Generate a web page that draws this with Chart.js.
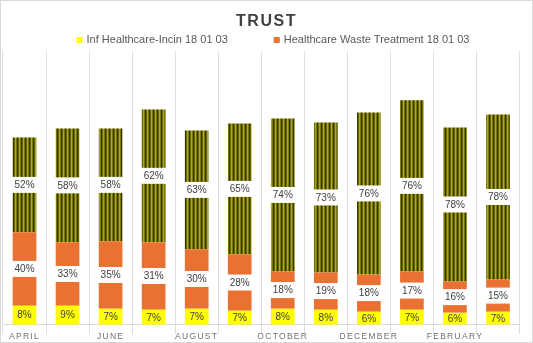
<!DOCTYPE html>
<html>
<head>
<meta charset="utf-8">
<script src="https://cdn.jsdelivr.net/npm/chart.js@4.4.1/dist/chart.umd.min.js"></script>
<style>
  html, body { margin: 0; padding: 0; background: #fff; }
  canvas { display: block; }
</style>
</head>
<body>
<canvas id="trustChart" width="533" height="343"></canvas>
<script>
// Months (financial year, April to March)
const months = ["APRIL", "MAY", "JUNE", "JULY", "AUGUST", "SEPTEMBER",
  "OCTOBER", "NOVEMBER", "DECEMBER", "JANUARY", "FEBRUARY", "MARCH"];

// Tonnage per stream
const infIncin = [1.9, 1.9, 1.6, 1.5, 1.6, 1.4, 1.6, 1.5, 1.3, 1.5, 1.2, 1.3];
const hwTreatment = [7.3, 6.3, 6.7, 6.7, 5.9, 5.6, 3.7, 3.7, 3.7, 3.8, 3.1, 3.2];
const otherWaste = [9.4, 11.3, 11.2, 13.2, 11.8, 13.0, 15.2, 14.9, 16.1, 17.0, 15.3, 16.4];

// Share labels printed on the segments
const infIncinPct = [8, 9, 7, 7, 7, 7, 8, 8, 6, 7, 6, 7];
const hwTreatmentPct = [40, 33, 35, 31, 30, 28, 18, 19, 18, 17, 16, 15];
const otherWastePct = [52, 58, 58, 62, 63, 65, 74, 73, 76, 76, 78, 78];

const FONT = '"Liberation Sans", Arial, sans-serif';
const pctLabels = [infIncinPct, hwTreatmentPct, otherWastePct];

// vertical stripe fill for the top segment
function stripePattern() {
  const pc = document.createElement("canvas");
  pc.width = 4; pc.height = 4;
  const p = pc.getContext("2d");
  const cols = ["#7a7900", "#333300", "#6c6b00", "#a9a71c"];
  cols.forEach((c, i) => { p.fillStyle = c; p.fillRect(i, 0, 1, 4); });
  return document.createElement("canvas").getContext("2d").createPattern(pc, "repeat");
}

const segmentLabels = {
  id: "segmentLabels",
  beforeDraw(chart) {
    const c = chart.ctx;
    c.save();
    c.fillStyle = "#fff";
    c.fillRect(0, 0, chart.width, chart.height);
    c.restore();
    c.letterSpacing = "1.5px"; // spaced title
  },
  beforeDatasetsDraw(chart) {
    chart.ctx.letterSpacing = "0px";
  },
  afterDatasetsDraw(chart) {
    const c = chart.ctx;
    c.save();
    c.font = "10px " + FONT;
    c.textAlign = "center";
    c.textBaseline = "middle";
    chart.data.datasets.forEach((ds, i) => {
      chart.getDatasetMeta(i).data.forEach((bar, j) => {
        const mid = (bar.y + bar.base) / 2;
        if (i > 0) {
          c.fillStyle = "#fff";
          c.fillRect(bar.x - bar.width / 2 - 2, mid - 8, bar.width + 4, 16);
        }
        c.fillStyle = "#404040";
        c.fillText(pctLabels[i][j] + "%", bar.x, mid + 0.5);
      });
    });
    c.restore();
    c.letterSpacing = "1.3px"; // month labels are drawn after this (ticks z: 1)
  },
  afterDraw(chart) {
    const c = chart.ctx;
    c.letterSpacing = "0px";
    // legend: only the first two series are listed
    const items = chart.data.datasets.slice(0, 2);
    c.save();
    c.font = "11px " + FONT;
    c.textBaseline = "middle";
    c.textAlign = "left";
    const widths = items.map(d => c.measureText(d.label).width);
    const gap = 46;
    const total = widths.reduce((s, w) => s + 10 + w, 0) + gap * (items.length - 1);
    let x = 273 - total / 2;
    const y = 40;
    items.forEach((d, i) => {
      c.fillStyle = d.backgroundColor;
      c.fillRect(x, y - 3, 6, 6);
      c.fillStyle = "#595959";
      c.fillText(d.label, x + 10, y);
      x += 10 + widths[i] + gap;
    });
    // chart border
    c.strokeStyle = "#d9d9d9";
    c.lineWidth = 1;
    c.strokeRect(0.5, 0.5, chart.width - 1, chart.height - 1);
    c.restore();
  }
};

new Chart(document.getElementById("trustChart"), {
  type: "bar",
  data: {
    labels: months,
    datasets: [
      { label: "Inf Healthcare-Incin 18 01 03", data: infIncin, backgroundColor: "#ffff00" },
      { label: "Healthcare Waste Treatment 18 01 03", data: hwTreatment, backgroundColor: "#e97132" },
      { label: "Other", data: otherWaste, backgroundColor: stripePattern() }
    ]
  },
  options: {
    responsive: false,
    animation: false,
    devicePixelRatio: 1,
    layout: { padding: { left: 3, right: 3, top: 0, bottom: 3 } },
    datasets: { bar: { categoryPercentage: 1, barPercentage: 0.55, borderWidth: 0 } },
    plugins: {
      legend: { display: false },
      tooltip: { enabled: false },
      title: {
        display: true,
        text: "TRUST",
        color: "#404040",
        font: { family: FONT, size: 16, weight: "bold" },
        padding: { top: 11.5, bottom: 20.3 }
      }
    },
    scales: {
      x: {
        stacked: true,
        grid: { color: "#dedede", tickLength: 9, offset: true },
        border: { color: "#d9d9d9" },
        ticks: {
          z: 1,
          autoSkip: false,
          maxRotation: 0,
          padding: -2,
          color: "#707070",
          font: { family: FONT, size: 8.5 },
          callback(v, i) { return i % 2 === 0 ? this.getLabelForValue(v) : ""; }
        }
      },
      y: {
        stacked: true,
        min: 0,
        max: 27.2,
        position: "right",
        grid: { display: false },
        border: { display: false },
        ticks: { display: false },
        afterFit(s) { s.width = 10.5; }
      }
    }
  },
  plugins: [segmentLabels]
});
</script>
</body>
</html>
